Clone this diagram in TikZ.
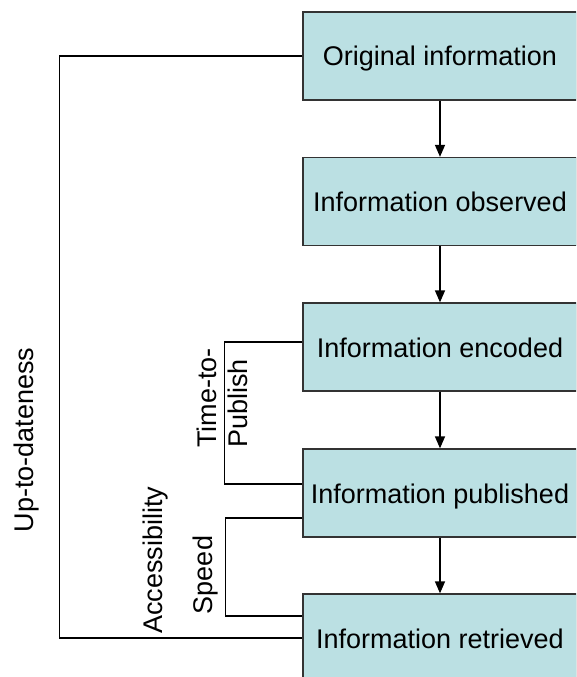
\documentclass[tikz,border=0pt]{standalone}
\usepackage{fontspec}
\setmainfont{Liberation Sans}
\usetikzlibrary{arrows.meta}
\definecolor{boxfill}{RGB}{187,224,227}
\begin{document}
\begin{tikzpicture}[x=1pt,y=-1pt,
  box/.style={draw=black!80, line width=1.3pt, fill=boxfill, minimum width=274pt, minimum height=88pt, inner sep=0pt, text height=21pt, text depth=1pt, font=\fontsize{27}{31}\selectfont},
  lbl/.style={rotate=90, inner sep=0pt, font=\fontsize{27}{31}\selectfont},
  conn/.style={line width=1.5pt, draw=black},
  arr/.style={conn, -{Triangle[width=10pt,length=12pt]}}]
\clip (0,0) rectangle (576,677);
\node[box] (b1) at (440,56) {Original information};
\node[box] (b2) at (440,201.5) {Information observed};
\node[box] (b3) at (440,347) {Information encoded};
\node[box] (b4) at (440,493) {Information published};
\node[box] (b5) at (440,638) {Information retrieved};
\draw[arr] (b1) -- (b2);
\draw[arr] (b2) -- (b3);
\draw[arr] (b3) -- (b4);
\draw[arr] (b4) -- (b5);
\draw[conn] (b1.west) -- ++(-243,0) |- (b5.west);
\draw[conn] ([yshift=5pt]b3.west) -- ++(-78,0) |- ([yshift=9pt]b4.west);
\draw[conn] ([yshift=-25pt]b4.west) -- ++(-77,0) |- ([yshift=22pt]b5.west);
\node[lbl] (up) at (27,440) {Up-to-dateness};
\node[lbl, align=left] (tp) at (222,398) {Time-to-\\Publish};
\node[lbl] (acc) at (156,560) {Accessibility};
\node[lbl] (sp) at (206,575) {Speed};
\end{tikzpicture}
\end{document}
